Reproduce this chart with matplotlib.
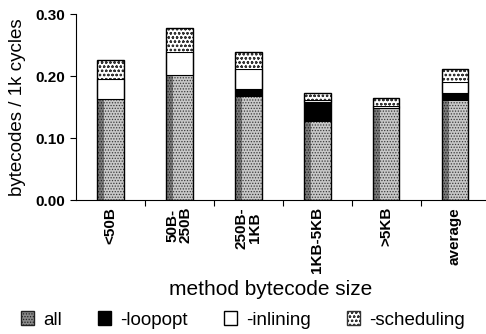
import numpy as np
import matplotlib
matplotlib.use('Agg')
import matplotlib.pyplot as plt
from matplotlib.patches import Patch
from matplotlib import rcParams

rcParams['font.family'] = 'Liberation Sans'
rcParams['hatch.linewidth'] = 0.6

# Data (stacked segment heights)
categories = ['<50B', '50B-\n250B', '250B-\n1KB', '1KB-5KB', '>5KB', 'average']
all_opt = [0.163, 0.202, 0.167, 0.126, 0.149, 0.159]
loopopt = [0.000, 0.000, 0.012, 0.032, 0.000, 0.013]
inlining = [0.032, 0.037, 0.032, 0.003, 0.003, 0.018]
scheduling = [0.031, 0.039, 0.027, 0.012, 0.012, 0.021]
yticks = [0.00, 0.10, 0.20, 0.30]

x = np.arange(len(categories))
w = 0.39

fig = plt.figure(figsize=(4.86, 3.34), dpi=100)
ax = fig.add_axes([0.156, 0.401, 0.844, 0.557])

b0 = np.zeros(len(x))
b1 = b0 + np.array(all_opt)
b2 = b1 + np.array(loopopt)
b3 = b2 + np.array(inlining)
tops = b3 + np.array(scheduling)

# all: stippled gray, darker strip at the left edge
ax.bar(x, all_opt, w, bottom=b0, color='#c8c8c8', edgecolor='#3a3a3a', hatch='......', linewidth=0)
ax.bar(x - w * 0.36, all_opt, w * 0.28, bottom=b0, color='#7a7a7a', edgecolor='#222222',
       hatch='......', linewidth=0)
# loopopt: solid black
ax.bar(x, loopopt, w, bottom=b1, color='black', linewidth=0)
# inlining: white
ax.bar(x, inlining, w, bottom=b2, color='white', edgecolor='black', linewidth=0.8)
# scheduling: dotted pattern
ax.bar(x, scheduling, w, bottom=b3, color='white', edgecolor='#333333', hatch='oooo', linewidth=0)
# outlines
ax.bar(x, tops, w, fill=False, edgecolor='black', linewidth=1.0)

ax.set_ylim(0, 0.30)
ax.set_xlim(-0.5, 5.45)
ax.set_yticks(yticks)
ax.set_yticklabels(['%.2f' % v for v in yticks], fontweight='bold', fontsize=11)
ax.set_xticks(x[:-1] + 0.5)
ax.set_xticklabels([])
ax.tick_params(axis='x', length=4, direction='out')
ax.tick_params(axis='y', length=4, direction='out')
for xi, lab in zip(x, categories):
    ax.text(xi, -0.011, lab, rotation=90, ha='center', va='top', fontweight='bold',
            fontsize=11, linespacing=0.95, transform=ax.transData)

ax.spines['top'].set_visible(False)
ax.spines['right'].set_visible(False)
ax.set_ylabel('bytecodes / 1k cycles', fontsize=13.5, labelpad=7)
fig.text(0.557, 0.132, 'method bytecode size', ha='center', va='center', fontsize=15)

handles = [
    Patch(facecolor='#8a8a8a', edgecolor='#222222', hatch='......', label='all'),
    Patch(facecolor='black', edgecolor='black', label='-loopopt'),
    Patch(facecolor='white', edgecolor='black', label='-inlining'),
    Patch(facecolor='white', edgecolor='#333333', hatch='oooo', label='-scheduling'),
]
fig.legend(handles=handles, loc='center', bbox_to_anchor=(0.5, 0.042), ncol=4, frameon=False,
           fontsize=13.5, handlelength=0.7, handleheight=0.7, handletextpad=0.5, columnspacing=1.9)

fig.savefig('out.png', dpi=100)
